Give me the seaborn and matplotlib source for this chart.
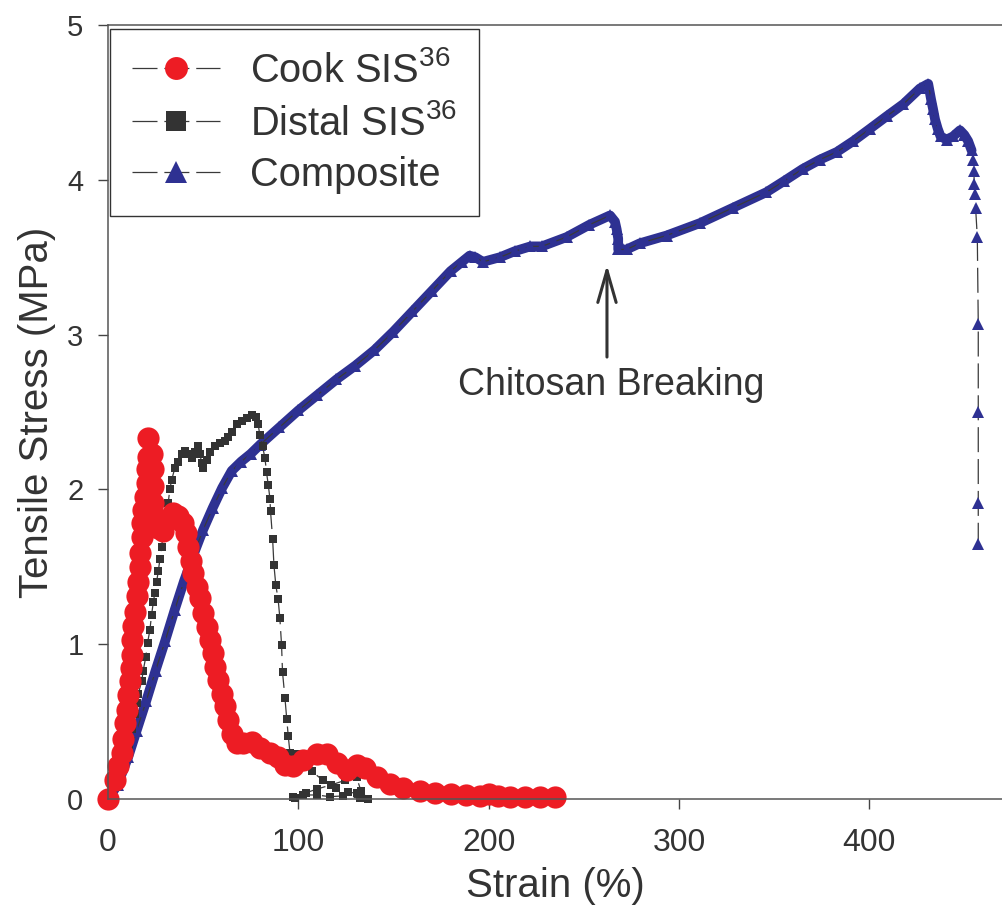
import matplotlib
matplotlib.use("Agg")
import matplotlib.pyplot as plt
import seaborn as sns

# ---------------- data ----------------
cook_strain = [0, 3.6, 5.4, 7.1, 8.0, 8.9, 9.8, 10.6, 11.5, 11.9, 12.4, 12.7, 13.2, 14.1,
               15.0, 15.9, 16.8, 16.8, 17.7, 17.7, 18.5, 19.4, 20.3, 20.3, 21.1, 21.1,
               22.9, 23.4, 23.8, 23.8, 24.6, 26.4, 29.0, 31.6, 34.3, 36.9, 39.2, 40.9,
               42.1, 43.4, 44.8, 46.6, 48.3, 50.0, 51.8, 53.5, 55.3, 56.2, 57.9, 59.7,
               61.4, 63.2, 65.0, 67.6, 71.0, 75.5, 79.8, 85.1, 89.4, 93.0, 97.4, 102.6,
               109.6, 114.9, 120.1, 125.4, 130.6, 135.0, 141.1, 148.1, 155.1, 164, 172,
               180, 188, 195.5, 200, 205, 211, 219, 227, 235]
cook_stress = [0.0, 0.12, 0.21, 0.295, 0.39, 0.49, 0.575, 0.67, 0.76, 0.845, 0.93, 1.03,
               1.12, 1.21, 1.31, 1.40, 1.50, 1.59, 1.69, 1.78, 1.87, 1.95, 2.04, 2.13,
               2.21, 2.33, 2.23, 2.13, 2.02, 1.91, 1.82, 1.75, 1.73, 1.80, 1.845, 1.83,
               1.78, 1.72, 1.63, 1.54, 1.46, 1.37, 1.30, 1.20, 1.11, 1.03, 0.94, 0.855,
               0.77, 0.68, 0.60, 0.51, 0.42, 0.36, 0.36, 0.37, 0.33, 0.30, 0.27, 0.22,
               0.21, 0.25, 0.29, 0.29, 0.23, 0.19, 0.22, 0.20, 0.14, 0.10, 0.07, 0.05,
               0.04, 0.03, 0.025, 0.02, 0.03, 0.02, 0.012, 0.01, 0.012, 0.01]

distal_strain = [0, 4, 8, 11, 12.5, 14.1, 15.0, 15.9, 17.7, 18.5, 19.9, 20.8, 22.0, 22.9,
                 23.8, 24.6, 25.5, 26.4, 27.3, 28.2, 29.0, 30.3, 31.6, 32.5, 33.4, 35.2,
                 36.9, 38.7, 40.4, 42.1, 43.9, 45.7, 47.4, 48.3, 49.2, 50.0, 51.8, 53.5,
                 56.2, 58.8, 61.4, 63.2, 65.0, 67.6, 70.2, 72.8, 75.5, 77.7, 78.9, 79.8,
                 81.2, 82.5, 83.3, 84.2, 85.1, 85.4, 86.5, 87.2, 88.2, 89.4, 90.3, 91.2,
                 91.7, 93.0, 93.9, 94.7, 95.6, 97.3, 99.1, 103, 107, 113, 120, 126, 130.6,
                 132.4, 123.6, 116.6, 109.6, 102.6, 97.3, 98.2, 104, 110, 117, 124.5,
                 130.6, 133, 136.7]
distal_stress = [0, 0.08, 0.2, 0.35, 0.45, 0.55, 0.62, 0.68, 0.76, 0.83, 0.92, 1.01, 1.09,
                 1.19, 1.27, 1.33, 1.40, 1.47, 1.55, 1.63, 1.72, 1.81, 1.91, 2.00, 2.06,
                 2.14, 2.18, 2.23, 2.25, 2.23, 2.20, 2.24, 2.28, 2.23, 2.17, 2.14, 2.19,
                 2.24, 2.28, 2.30, 2.31, 2.34, 2.37, 2.42, 2.44, 2.46, 2.48, 2.47, 2.42,
                 2.35, 2.28, 2.20, 2.11, 2.03, 1.94, 1.86, 1.68, 1.51, 1.38, 1.29, 1.17,
                 0.995, 0.82, 0.65, 0.52, 0.41, 0.30, 0.28, 0.29, 0.24, 0.18, 0.12, 0.07,
                 0.045, 0.037, 0.005, 0.02, 0.015, 0.026, 0.026, 0.01, 0.005, 0.04, 0.065,
                 0.09, 0.12, 0.14, 0.05, 0.0]

comp_strain = [0, 5, 10.6, 15, 20, 25, 30, 35, 40, 45, 50, 55, 60, 65, 70, 75, 80, 90, 100,
               110, 120, 130, 140, 150, 160, 170, 180, 186, 190, 193, 197, 206, 214, 222,
               228, 241, 253, 263.8, 266.4, 267.3, 268.1, 268.1, 272.5, 279.5, 293.5, 311,
               328.5, 346, 355, 365, 374, 383, 391.6, 400.4, 409.1, 418, 426.6, 431,
               432.5, 433.5, 434.6, 436, 437.5, 440.7, 444, 447.7, 450, 452, 453.8,
               454.7, 455, 455.2, 455.6, 455.9, 456.8, 457.3, 457.3, 457.3, 457.3]
comp_stress = [0, 0.09, 0.27, 0.44, 0.63, 0.83, 1.02, 1.22, 1.41, 1.58, 1.74, 1.88, 2.01,
               2.12, 2.18, 2.23, 2.29, 2.40, 2.51, 2.61, 2.71, 2.80, 2.90, 3.02, 3.15, 3.28,
               3.41, 3.47, 3.51, 3.50, 3.47, 3.50, 3.54, 3.57, 3.57, 3.63, 3.71, 3.77, 3.73,
               3.68, 3.62, 3.55, 3.55, 3.59, 3.64, 3.72, 3.82, 3.92, 3.99, 4.07, 4.13, 4.18,
               4.25, 4.33, 4.41, 4.49, 4.59, 4.62, 4.52, 4.46, 4.39, 4.33, 4.28, 4.26, 4.28,
               4.32, 4.29, 4.25, 4.19, 4.13, 4.06, 3.97, 3.91, 3.82, 3.63, 3.07, 2.50, 1.91,
               1.65]
comp_dense_n = 69  # points drawn so densely in the original that they merge into a band

labels = ["Cook SIS$^{36}$", "Distal SIS$^{36}$", "Composite"]
x_ticks = [0, 100, 200, 300, 400]
y_ticks = [0, 1, 2, 3, 4, 5]
annot_text = "Chitosan Breaking"

# ---------------- style ----------------
sns.set_theme(style="ticks")
plt.rcParams["font.family"] = ["Liberation Sans", "DejaVu Sans"]
plt.rcParams["mathtext.fontset"] = "custom"
plt.rcParams["mathtext.rm"] = "Liberation Sans"
plt.rcParams["mathtext.it"] = "Liberation Sans:italic"
plt.rcParams["mathtext.bf"] = "Liberation Sans:bold"

TXT = "#333333"
RED = "#ED1C24"
BLUE = "#2E3192"
DARK = "#333333"
LINE = "#3a3a3a"
dash = (0, (20, 5.5))

fig = plt.figure(figsize=(10.03, 9.18), dpi=100)
ax = fig.add_axes([108 / 1003, 119 / 918, 895 / 1003, 774 / 918])

# Composite (drawn first: underneath)
sns.lineplot(x=comp_strain[:comp_dense_n], y=comp_stress[:comp_dense_n], sort=False,
             estimator=None, color=BLUE, lw=7.0, ax=ax, legend=False,
             solid_capstyle="round", solid_joinstyle="round", clip_on=False)
sns.lineplot(x=comp_strain, y=comp_stress, sort=False, estimator=None, color=LINE,
             lw=0.9, linestyle=dash, marker="^", markersize=8.5, markerfacecolor=BLUE,
             markeredgecolor=BLUE, markeredgewidth=0, ax=ax, legend=False, clip_on=False)
h_comp = ax.lines[-1]

# Distal
sns.lineplot(x=distal_strain, y=distal_stress, sort=False, estimator=None, color=LINE,
             lw=0.9, linestyle=dash, marker="s", markersize=6.2, markerfacecolor=DARK,
             markeredgecolor=DARK, markeredgewidth=0, ax=ax, legend=False, clip_on=False)
h_distal = ax.lines[-1]

# Cook (on top)
sns.lineplot(x=cook_strain, y=cook_stress, sort=False, estimator=None, color=LINE,
             lw=0.9, linestyle=dash, marker="o", markersize=16, markerfacecolor=RED,
             markeredgecolor=RED, markeredgewidth=0, ax=ax, legend=False, clip_on=False)
h_cook = ax.lines[-1]

# axes
ax.set_xlim(0, 470.3)
ax.set_ylim(0, 5)
ax.set_xticks(x_ticks)
ax.set_yticks(y_ticks)
ax.tick_params(axis="both", direction="out", length=7.2, width=1.0, color="#444444")
ax.tick_params(axis="x", labelsize=23, pad=14, labelcolor=TXT)
ax.tick_params(axis="y", labelsize=21, pad=10.5, labelcolor=TXT)
for s in ["left", "bottom", "top"]:
    ax.spines[s].set_color("#555555")
    ax.spines[s].set_linewidth(1.1)
ax.spines["right"].set_visible(False)
ax.set_xlabel("Strain (%)", fontsize=29, color=TXT, labelpad=6)
ax.set_ylabel("Tensile Stress (MPa)", fontsize=29, color=TXT, labelpad=8)

# annotation
ax.annotate("", xy=(262.2, 3.45), xytext=(262.2, 2.855),
            arrowprops=dict(arrowstyle="->,head_length=1.15,head_width=0.33",
                            lw=2.2, color=DARK, shrinkA=0, shrinkB=0,
                            mutation_scale=20))
ax.text(264.6, 2.61, annot_text, ha="center", va="baseline", fontsize=27, color=TXT)

# legend
leg = ax.legend([h_cook, h_distal, h_comp], labels, loc="upper left",
                bbox_to_anchor=(2 / 895, 770 / 774), borderaxespad=0, frameon=True,
                fancybox=False, edgecolor="#333333", framealpha=1, fontsize=28.7,
                numpoints=1, handlelength=2.2, handletextpad=0.75, borderpad=0.55,
                labelspacing=0.345)
leg.get_frame().set_linewidth(1.0)
for h, ms in zip(leg.legend_handles, [16.5, 14.4, 16.5]):
    h.set_markersize(ms)
for t in leg.get_texts():
    t.set_color(TXT)

fig.savefig("out.png", dpi=100)
